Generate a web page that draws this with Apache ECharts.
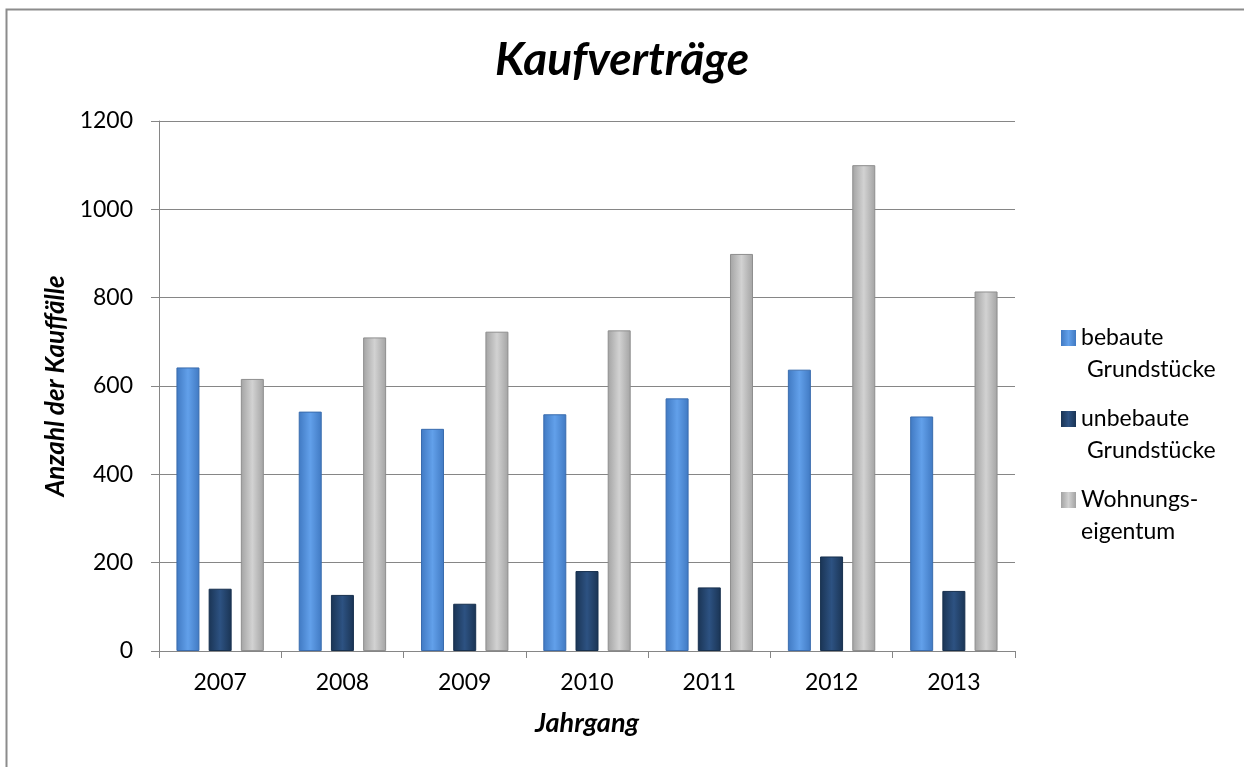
<!DOCTYPE html>
<html>
<head>
<meta charset="utf-8">
<title>Kaufverträge</title>
<script src="https://cdn.jsdelivr.net/npm/echarts@6/dist/echarts.min.js"></script>
<style>
    html, body { margin:0; padding:0; background:#ffffff; }
    #chart { width:1244px; height:767px; }
</style>
</head>
<body>
<div id="chart"></div>
<script>
var years = ['2007', '2008', '2009', '2010', '2011', '2012', '2013'];
var seriesNames = ['bebaute Grundstücke', 'unbebaute Grundstücke', 'Wohnungseigentum'];
var legendLabels = ['bebaute\n Grundstücke', 'unbebaute\n Grundstücke', 'Wohnungs-\neigentum'];
var bebaute = [642, 542, 503, 536, 572, 637, 531];
var unbebaute = [141, 127, 107, 181, 144, 214, 136];
var wohnung = [616, 710, 723, 726, 899, 1100, 814];

var font = 'Lato, "Open Sans", sans-serif';

function bevel(edge, mid){
    return new echarts.graphic.LinearGradient(0, 0, 1, 0, [
        {offset:0, color:edge},
        {offset:0.5, color:mid},
        {offset:1, color:edge}
    ]);
}

function barSeries(name, data, edge, mid, border){
    return {
        name:name,
        type:'bar',
        data:data,
        barWidth:23,
        barGap:'40%',
        itemStyle:{
            color:bevel(edge, mid),
            borderColor:border,
            borderWidth:1
        }
    };
}

var chart = echarts.init(document.getElementById('chart'));

chart.setOption({
    backgroundColor:'#ffffff',
    animation:false,
    title:{
        text:'Kaufverträge',
        left:'center',
        top:32,
        textStyle:{fontFamily:font, fontSize:46, fontWeight:'bold', fontStyle:'italic', color:'#000'}
    },
    graphic:[{
        type:'rect',
        shape:{x:6.5, y:9.5, width:1300, height:800},
        style:{fill:'none', stroke:'#8c8c8c', lineWidth:2},
        silent:true
    }],
    legend:{
        orient:'vertical',
        left:1056,
        top:317,
        itemGap:17,
        itemWidth:15,
        itemHeight:48,
        // square sits at the top of a tall icon so it lines up with the first text line
        icon:'path://M0,0H15V16H0Z M0,48L0.01,48',
        data:seriesNames,
        formatter:function(name){
            return legendLabels[seriesNames.indexOf(name)];
        },
        itemStyle:{borderWidth:0},
        textStyle:{fontFamily:font, fontSize:23, lineHeight:32, color:'#000'}
    },
    grid:{
        left:159,
        right:229,
        top:121,
        bottom:116
    },
    xAxis:{
        type:'category',
        data:years,
        name:'Jahrgang',
        nameLocation:'middle',
        nameGap:59,
        nameTextStyle:{fontFamily:font, fontSize:27, fontWeight:'bold', fontStyle:'italic', color:'#000'},
        axisLine:{lineStyle:{color:'#868686', width:1}},
        axisTick:{show:true, length:7, lineStyle:{color:'#868686'}},
        axisLabel:{fontFamily:font, fontSize:23, color:'#000', margin:20}
    },
    yAxis:{
        type:'value',
        min:0,
        max:1200,
        interval:200,
        name:'Anzahl der Kauffälle',
        nameLocation:'middle',
        nameGap:89,
        nameTextStyle:{fontFamily:font, fontSize:26, fontWeight:'bold', fontStyle:'italic', color:'#000'},
        axisLine:{show:true, lineStyle:{color:'#868686', width:1}},
        axisTick:{show:true, length:8, lineStyle:{color:'#868686'}},
        axisLabel:{
            fontFamily:font, fontSize:23, color:'#000', margin:26,
            formatter:function(v){ return String(v); }
        },
        splitLine:{lineStyle:{color:'#868686', width:1}}
    },
    series:[
        barSeries(seriesNames[0], bebaute, '#4079c2', '#62a0ea', '#3a6cae'),
        barSeries(seriesNames[1], unbebaute, '#1a3454', '#2d5282', '#17304e'),
        barSeries(seriesNames[2], wohnung, '#a3a3a3', '#d2d2d2', '#8e8e8e')
    ]
});
</script>
</body>
</html>
